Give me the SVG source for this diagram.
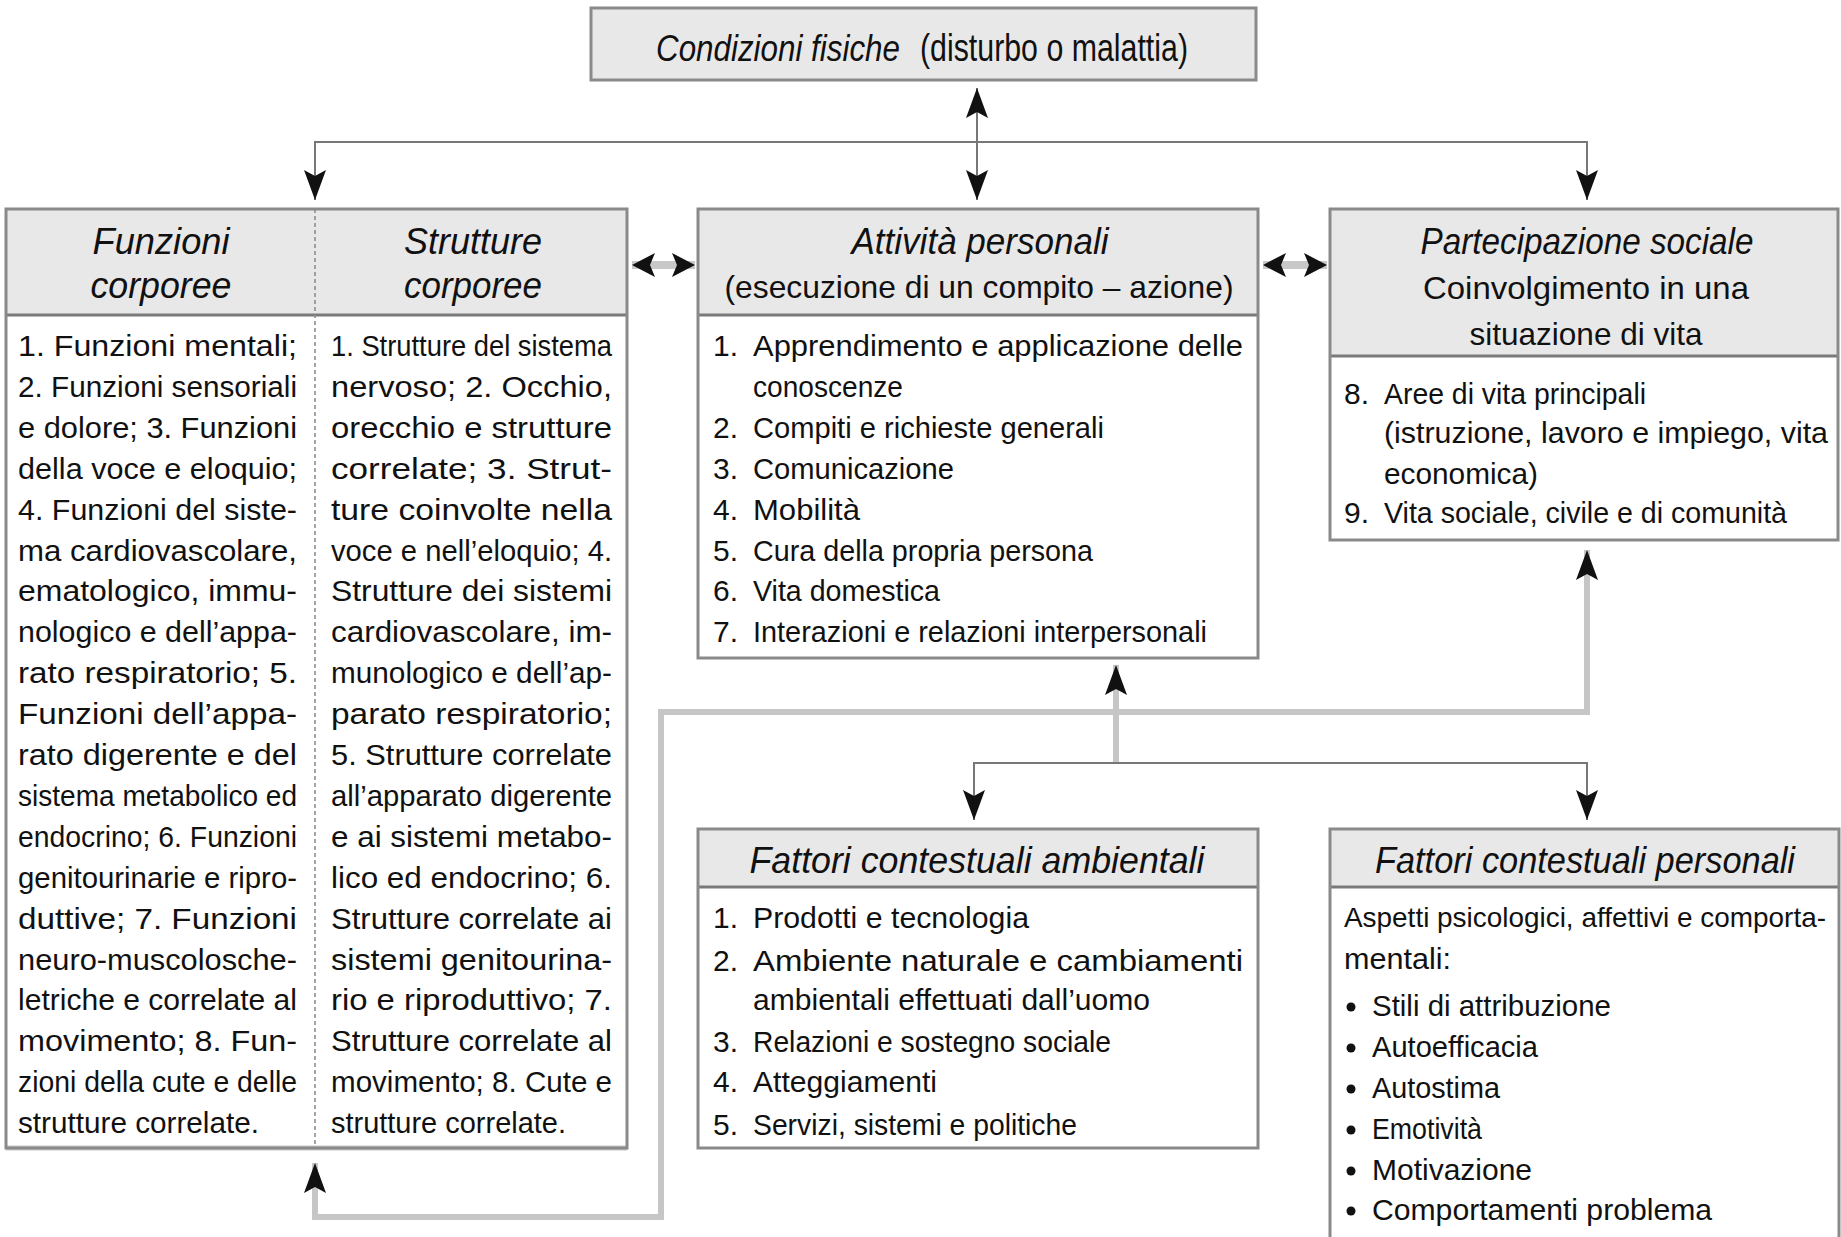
<svg xmlns="http://www.w3.org/2000/svg" width="1841" height="1237" viewBox="0 0 1841 1237">
<style>
text{font-family:"Liberation Sans Narrow","Liberation Sans",Arial,sans-serif;fill:#111;}
.b{font-size:30px;}
.hi{font-size:36px;font-style:italic;text-anchor:middle;}
.hr{font-size:32px;text-anchor:middle;}
.box{fill:none;stroke:#8a8a8a;stroke-width:3;}
.hd{fill:#e8e8e8;}
.bd{fill:#ffffff;}
.sep{stroke:#7a7a7a;stroke-width:3;}
.thin{fill:none;stroke:#777;stroke-width:2;}
.gray{fill:none;stroke:#c6c6c6;stroke-width:6;}
.dbl{stroke:#c8c8c8;stroke-width:8;}
</style>
<defs>
<marker id="ah" viewBox="0 0 30 22" refX="30" refY="11" markerWidth="30" markerHeight="22" markerUnits="userSpaceOnUse" orient="auto-start-reverse">
<path d="M0,0 L30,11 L0,22 L6,11 Z" fill="#111"/>
</marker>
<marker id="as" viewBox="0 0 23 24" refX="23" refY="12" markerWidth="23" markerHeight="24" markerUnits="userSpaceOnUse" orient="auto-start-reverse">
<path d="M0,0 L23,12 L0,24 L5,12 Z" fill="#111"/>
</marker>
</defs>
<rect width="1841" height="1237" fill="#fff"/>

<g id="connectors">
<path class="thin" d="M977,88 V200" marker-start="url(#ah)" marker-end="url(#ah)"/>
<path class="thin" d="M315,200 V142 H1587 V200" marker-start="url(#ah)" marker-end="url(#ah)"/>
<line class="dbl" x1="632" y1="265" x2="695" y2="265" marker-start="url(#as)" marker-end="url(#as)"/>
<line class="dbl" x1="1263" y1="265" x2="1327" y2="265" marker-start="url(#as)" marker-end="url(#as)"/>
<path class="gray" d="M1587,550 V712 H661 V1217 H315 V1163" marker-start="url(#ah)" marker-end="url(#ah)"/>
<path class="gray" d="M1116,763 V665" marker-end="url(#ah)"/>
<path class="thin" d="M974,820 V763 H1587 V820" marker-start="url(#ah)" marker-end="url(#ah)"/>
</g>

<g id="condizioni">
<rect class="hd" x="591" y="8" width="665" height="72"/>
<rect class="box" x="591" y="8" width="665" height="72"/>
<text x="656" y="61" font-size="37" font-style="italic" textLength="244" lengthAdjust="spacingAndGlyphs">Condizioni fisiche</text>
<text x="920" y="61" font-size="38" textLength="268" lengthAdjust="spacingAndGlyphs">(disturbo o malattia)</text>
</g>

<g id="corporee">
<rect class="bd" x="6" y="209" width="621" height="939"/>
<rect class="hd" x="6" y="209" width="621" height="106"/>
<line class="sep" x1="6" y1="315" x2="627" y2="315"/>
<line x1="6" y1="1148" x2="627" y2="1148" stroke="#c8c8c8" stroke-width="5"/>
<rect class="box" x="6" y="209" width="621" height="939"/>
<line x1="315" y1="209" x2="315" y2="1148" stroke="#888" stroke-width="1.5" stroke-dasharray="4 3"/>
<text class="hi" x="161" y="254" textLength="137" lengthAdjust="spacingAndGlyphs">Funzioni</text>
<text class="hi" x="161" y="298" textLength="141" lengthAdjust="spacingAndGlyphs">corporee</text>
<text class="hi" x="473" y="254" textLength="138" lengthAdjust="spacingAndGlyphs">Strutture</text>
<text class="hi" x="473" y="298" textLength="138" lengthAdjust="spacingAndGlyphs">corporee</text>
<g class="b">
<text class="b" x="18" y="356" textLength="279" lengthAdjust="spacingAndGlyphs">1.  Funzioni  mentali;</text>
<text class="b" x="18" y="396.9" textLength="279" lengthAdjust="spacingAndGlyphs">2. Funzioni sensoriali</text>
<text class="b" x="18" y="437.8" textLength="279" lengthAdjust="spacingAndGlyphs">e dolore; 3. Funzioni</text>
<text class="b" x="18" y="478.7" textLength="279" lengthAdjust="spacingAndGlyphs">della voce e eloquio;</text>
<text class="b" x="18" y="519.6" textLength="279" lengthAdjust="spacingAndGlyphs">4. Funzioni del  siste-</text>
<text class="b" x="18" y="560.5" textLength="279" lengthAdjust="spacingAndGlyphs">ma cardiovascolare,</text>
<text class="b" x="18" y="601.4" textLength="279" lengthAdjust="spacingAndGlyphs">ematologico, immu-</text>
<text class="b" x="18" y="642.3" textLength="279" lengthAdjust="spacingAndGlyphs">nologico e dell’appa-</text>
<text class="b" x="18" y="683.2" textLength="279" lengthAdjust="spacingAndGlyphs">rato respiratorio; 5.</text>
<text class="b" x="18" y="724.1" textLength="279" lengthAdjust="spacingAndGlyphs">Funzioni dell’appa-</text>
<text class="b" x="18" y="765" textLength="279" lengthAdjust="spacingAndGlyphs">rato digerente e del</text>
<text class="b" x="18" y="805.9" textLength="279" lengthAdjust="spacingAndGlyphs">sistema metabolico ed</text>
<text class="b" x="18" y="846.8" textLength="279" lengthAdjust="spacingAndGlyphs">endocrino; 6. Funzioni</text>
<text class="b" x="18" y="887.7" textLength="279" lengthAdjust="spacingAndGlyphs">genitourinarie e ripro-</text>
<text class="b" x="18" y="928.6" textLength="279" lengthAdjust="spacingAndGlyphs">duttive; 7. Funzioni</text>
<text class="b" x="18" y="969.5" textLength="279" lengthAdjust="spacingAndGlyphs">neuro-muscolosche-</text>
<text class="b" x="18" y="1010.4" textLength="279" lengthAdjust="spacingAndGlyphs">letriche e correlate al</text>
<text class="b" x="18" y="1051.3" textLength="279" lengthAdjust="spacingAndGlyphs">movimento; 8. Fun-</text>
<text class="b" x="18" y="1092.2" textLength="279" lengthAdjust="spacingAndGlyphs">zioni della cute e delle</text>
<text class="b" x="18" y="1133.1" textLength="241" lengthAdjust="spacingAndGlyphs">strutture correlate.</text>
<text class="b" x="331" y="356" textLength="281" lengthAdjust="spacingAndGlyphs">1. Strutture del sistema</text>
<text class="b" x="331" y="396.9" textLength="281" lengthAdjust="spacingAndGlyphs">nervoso; 2. Occhio,</text>
<text class="b" x="331" y="437.8" textLength="281" lengthAdjust="spacingAndGlyphs">orecchio e strutture</text>
<text class="b" x="331" y="478.7" textLength="281" lengthAdjust="spacingAndGlyphs">correlate; 3. Strut-</text>
<text class="b" x="331" y="519.6" textLength="281" lengthAdjust="spacingAndGlyphs">ture coinvolte nella</text>
<text class="b" x="331" y="560.5" textLength="281" lengthAdjust="spacingAndGlyphs">voce e nell’eloquio; 4.</text>
<text class="b" x="331" y="601.4" textLength="281" lengthAdjust="spacingAndGlyphs">Strutture dei sistemi</text>
<text class="b" x="331" y="642.3" textLength="281" lengthAdjust="spacingAndGlyphs">cardiovascolare, im-</text>
<text class="b" x="331" y="683.2" textLength="281" lengthAdjust="spacingAndGlyphs">munologico e dell’ap-</text>
<text class="b" x="331" y="724.1" textLength="281" lengthAdjust="spacingAndGlyphs">parato respiratorio;</text>
<text class="b" x="331" y="765" textLength="281" lengthAdjust="spacingAndGlyphs">5. Strutture correlate</text>
<text class="b" x="331" y="805.9" textLength="281" lengthAdjust="spacingAndGlyphs">all’apparato digerente</text>
<text class="b" x="331" y="846.8" textLength="281" lengthAdjust="spacingAndGlyphs">e ai sistemi metabo-</text>
<text class="b" x="331" y="887.7" textLength="281" lengthAdjust="spacingAndGlyphs">lico ed endocrino; 6.</text>
<text class="b" x="331" y="928.6" textLength="281" lengthAdjust="spacingAndGlyphs">Strutture correlate ai</text>
<text class="b" x="331" y="969.5" textLength="281" lengthAdjust="spacingAndGlyphs">sistemi genitourina-</text>
<text class="b" x="331" y="1010.4" textLength="281" lengthAdjust="spacingAndGlyphs">rio e riproduttivo; 7.</text>
<text class="b" x="331" y="1051.3" textLength="281" lengthAdjust="spacingAndGlyphs">Strutture correlate al</text>
<text class="b" x="331" y="1092.2" textLength="281" lengthAdjust="spacingAndGlyphs">movimento; 8. Cute e</text>
<text class="b" x="331" y="1133.1" textLength="235" lengthAdjust="spacingAndGlyphs">strutture correlate.</text>
</g>
</g>

<g id="attivita">
<rect class="bd" x="698" y="209" width="560" height="449"/>
<rect class="hd" x="698" y="209" width="560" height="106"/>
<line class="sep" x1="698" y1="315" x2="1258" y2="315"/>
<rect class="box" x="698" y="209" width="560" height="449"/>
<text class="hi" x="980" y="254" textLength="257" lengthAdjust="spacingAndGlyphs">Attività personali</text>
<text class="hr" x="979" y="298" textLength="509" lengthAdjust="spacingAndGlyphs">(esecuzione di un compito – azione)</text>
<text class="b" x="713" y="356">1.</text>
<text class="b" x="753" y="356" textLength="490" lengthAdjust="spacingAndGlyphs">Apprendimento e applicazione delle</text>
<text class="b" x="753" y="396.9" textLength="150" lengthAdjust="spacingAndGlyphs">conoscenze</text>
<text class="b" x="713" y="437.8">2.</text>
<text class="b" x="753" y="437.8" textLength="351" lengthAdjust="spacingAndGlyphs">Compiti e richieste generali</text>
<text class="b" x="713" y="478.7">3.</text>
<text class="b" x="753" y="478.7" textLength="201" lengthAdjust="spacingAndGlyphs">Comunicazione</text>
<text class="b" x="713" y="519.6">4.</text>
<text class="b" x="753" y="519.6" textLength="107" lengthAdjust="spacingAndGlyphs">Mobilità</text>
<text class="b" x="713" y="560.5">5.</text>
<text class="b" x="753" y="560.5" textLength="340" lengthAdjust="spacingAndGlyphs">Cura della propria persona</text>
<text class="b" x="713" y="601.4">6.</text>
<text class="b" x="753" y="601.4" textLength="187" lengthAdjust="spacingAndGlyphs">Vita domestica</text>
<text class="b" x="713" y="642.3">7.</text>
<text class="b" x="753" y="642.3" textLength="454" lengthAdjust="spacingAndGlyphs">Interazioni e relazioni interpersonali</text>
</g>

<g id="partecipazione">
<rect class="bd" x="1330" y="209" width="508" height="331"/>
<rect class="hd" x="1330" y="209" width="508" height="147"/>
<line class="sep" x1="1330" y1="356" x2="1838" y2="356"/>
<rect class="box" x="1330" y="209" width="508" height="331"/>
<text class="hi" x="1587" y="254" textLength="333" lengthAdjust="spacingAndGlyphs">Partecipazione sociale</text>
<text class="hr" x="1586" y="299" textLength="326" lengthAdjust="spacingAndGlyphs">Coinvolgimento in una</text>
<text class="hr" x="1586" y="345" textLength="233" lengthAdjust="spacingAndGlyphs">situazione di vita</text>
<text class="b" x="1344" y="404">8.</text>
<text class="b" x="1384" y="404" textLength="262" lengthAdjust="spacingAndGlyphs">Aree di vita principali</text>
<text class="b" x="1384" y="443" textLength="444" lengthAdjust="spacingAndGlyphs">(istruzione,  lavoro e impiego, vita</text>
<text class="b" x="1384" y="484" textLength="154" lengthAdjust="spacingAndGlyphs">economica)</text>
<text class="b" x="1344" y="523">9.</text>
<text class="b" x="1384" y="523" textLength="403" lengthAdjust="spacingAndGlyphs">Vita sociale, civile e di comunità</text>
</g>

<g id="ambientali">
<rect class="bd" x="698" y="829" width="560" height="319"/>
<rect class="hd" x="698" y="829" width="560" height="58"/>
<line class="sep" x1="698" y1="887" x2="1258" y2="887"/>
<rect class="box" x="698" y="829" width="560" height="319"/>
<text class="hi" x="977" y="873" textLength="455" lengthAdjust="spacingAndGlyphs">Fattori contestuali ambientali</text>
<text class="b" x="713" y="928">1.</text>
<text class="b" x="753" y="928" textLength="276" lengthAdjust="spacingAndGlyphs">Prodotti  e tecnologia</text>
<text class="b" x="713" y="971">2.</text>
<text class="b" x="753" y="971" textLength="490" lengthAdjust="spacingAndGlyphs">Ambiente naturale e cambiamenti</text>
<text class="b" x="753" y="1010" textLength="397" lengthAdjust="spacingAndGlyphs">ambientali effettuati dall’uomo</text>
<text class="b" x="713" y="1052">3.</text>
<text class="b" x="753" y="1052" textLength="358" lengthAdjust="spacingAndGlyphs">Relazioni e  sostegno sociale</text>
<text class="b" x="713" y="1092">4.</text>
<text class="b" x="753" y="1092" textLength="184" lengthAdjust="spacingAndGlyphs">Atteggiamenti</text>
<text class="b" x="713" y="1135">5.</text>
<text class="b" x="753" y="1135" textLength="324" lengthAdjust="spacingAndGlyphs">Servizi, sistemi e politiche</text>
</g>

<g id="personali">
<rect class="bd" x="1330" y="829" width="509" height="420"/>
<rect class="hd" x="1330" y="829" width="509" height="58"/>
<line class="sep" x1="1330" y1="887" x2="1839" y2="887"/>
<rect class="box" x="1330" y="829" width="509" height="420"/>
<text class="hi" x="1585" y="873" textLength="420" lengthAdjust="spacingAndGlyphs">Fattori contestuali personali</text>
<text x="1344" y="927" font-size="28" textLength="482" lengthAdjust="spacingAndGlyphs">Aspetti psicologici, affettivi e comporta-</text>
<text class="b" x="1344" y="969" textLength="107" lengthAdjust="spacingAndGlyphs">mentali:</text>
<g fill="#111">
<circle cx="1351" cy="1007" r="4.5"/>
<circle cx="1351" cy="1048" r="4.5"/>
<circle cx="1351" cy="1089" r="4.5"/>
<circle cx="1351" cy="1130" r="4.5"/>
<circle cx="1351" cy="1171" r="4.5"/>
<circle cx="1351" cy="1211" r="4.5"/>
</g>
<text class="b" x="1372" y="1016" textLength="239" lengthAdjust="spacingAndGlyphs">Stili di attribuzione</text>
<text class="b" x="1372" y="1057" textLength="166" lengthAdjust="spacingAndGlyphs">Autoefficacia</text>
<text class="b" x="1372" y="1098" textLength="128" lengthAdjust="spacingAndGlyphs">Autostima</text>
<text class="b" x="1372" y="1139" textLength="110" lengthAdjust="spacingAndGlyphs">Emotività</text>
<text class="b" x="1372" y="1180" textLength="160" lengthAdjust="spacingAndGlyphs">Motivazione</text>
<text class="b" x="1372" y="1220" textLength="340" lengthAdjust="spacingAndGlyphs">Comportamenti problema</text>
</g>
</svg>
